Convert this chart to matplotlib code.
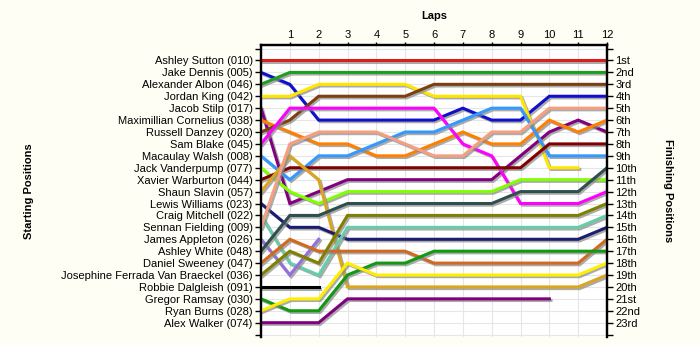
"""Bump chart of race positions lap by lap."""

import matplotlib
matplotlib.use("Agg")
import matplotlib.pyplot as plt
import matplotlib.patheffects as pe
import numpy as np

plt.rcParams["font.family"] = ["Liberation Sans", "DejaVu Sans"]

laps = list(range(13))

drivers = [
    "Ashley Sutton (010)", "Jake Dennis (005)", "Alexander Albon (046)",
    "Jordan King (042)", "Jacob Stilp (017)", "Maximillian Cornelius (038)",
    "Russell Danzey (020)", "Sam Blake (045)", "Macaulay Walsh (008)",
    "Jack Vanderpump (077)", "Xavier Warburton (044)", "Shaun Slavin (057)",
    "Lewis Williams (023)", "Craig Mitchell (022)", "Sennan Fielding (009)",
    "James Appleton (026)", "Ashley White (048)", "Daniel Sweeney (047)",
    "Josephine Ferrada Van Braeckel (036)", "Robbie Dalgleish (091)",
    "Gregor Ramsay (030)", "Ryan Burns (028)", "Alex Walker (074)",
]

finish_labels = ["1st", "2nd", "3rd"] + [f"{i}th" for i in range(4, 21)] + ["21st", "22nd", "23rd"]

# position per lap (lap 0 = grid), None = retired
sutton = [1, 1, 1, 1, 1, 1, 1, 1, 1, 1, 1, 1, 1]
dennis = [2, 3, 6, 6, 6, 6, 6, 5, 6, 6, 4, 4, 4]
albon = [3, 2, 2, 2, 2, 2, 2, 2, 2, 2, 2, 2, 2]
king = [4, 4, 3, 3, 3, 3, 4, 4, 4, 4, 10, 10, None]
stilp = [5, 13, 12, 11, 11, 11, 11, 11, 11, 9, 7, 6, 7]
cornelius = [6, 7, 8, 8, 9, 9, 8, 7, 8, 8, 6, 7, 6]
danzey = [7, 6, 4, 4, 4, 4, 3, 3, 3, 3, 3, 3, 3]
blake = [8, 5, 5, 5, 5, 5, 5, 8, 9, 13, 13, 13, 12]
walsh = [9, 11, 9, 9, 8, 7, 7, 6, 5, 5, 9, 9, 9]
vanderpump = [10, 12, 13, 12, 12, 12, 12, 12, 12, 11, 11, 11, 11]
warburton = [11, 10, 10, 10, 10, 10, 10, 10, 10, 10, 8, 8, 8]
slavin = [12, 9, 11, 20, 20, 20, 20, 20, 20, 20, 20, 20, 19]
williams = [13, 15, 15, 16, 16, 16, 16, 16, 16, 16, 16, 16, 15]
mitchell = [14, 18, 19, 15, 15, 15, 15, 15, 15, 15, 15, 15, 14]
fielding = [15, 8, 7, 7, 7, 8, 9, 9, 7, 7, 5, 5, 5]
appleton = [16, 19, 16, None, None, None, None, None, None, None, None, None, None]
white = [17, 14, 14, 13, 13, 13, 13, 13, 13, 12, 12, 12, 10]
sweeney = [18, 16, 17, 17, 17, 17, 18, 18, 18, 18, 18, 18, 16]
ferrada = [19, 17, 18, 14, 14, 14, 14, 14, 14, 14, 14, 14, 13]
dalgleish = [20, 20, 20, None, None, None, None, None, None, None, None, None, None]
ramsay = [21, 22, 22, 19, 18, 18, 17, 17, 17, 17, 17, 17, 17]
burns = [22, 21, 21, 18, 19, 19, 19, 19, 19, 19, 19, 19, 18]
walker = [23, 23, 23, 21, 21, 21, 21, 21, 21, 21, 21, None, None]

driver_laps = [sutton, dennis, albon, king, stilp, cornelius, danzey, blake,
               walsh, vanderpump, warburton, slavin, williams, mitchell,
               fielding, appleton, white, sweeney, ferrada, dalgleish,
               ramsay, burns, walker]

colors = ["#DD1C1C", "#1010CC", "#1E9E1E", "#FFE600", "#800080", "#FF8000",
          "#7B3F10", "#FF00FF", "#3399FF", "#80FF00", "#800000", "#DAA520",
          "#1C1C70", "#66CDAA", "#F4A080", "#9370DB", "#2F4F4F", "#D2691E",
          "#808000", "#000000", "#119911", "#FFEE00", "#800080"]

fig = plt.figure(figsize=(7, 3.45), dpi=100, facecolor="#FFFEF5")
ax = fig.add_axes([261 / 700, 1 - 337 / 345, 346 / 700, 292 / 345])
ax.set_facecolor("white")

shadow = [pe.SimpleLineShadow(offset=(1.2, -1.2), shadow_color="#888888", alpha=0.7), pe.Normal()]
for pos, col in zip(driver_laps, colors):
    y = np.array([np.nan if p is None else p for p in pos], dtype=float)
    ax.plot(laps, y, color=col, lw=2.2, solid_joinstyle="miter", path_effects=shadow, zorder=3)

ax.set_xlim(0, 12)
ax.set_ylim(24.2, -0.3)

ax.xaxis.tick_top()
ax.xaxis.set_label_position("top")
ax.set_xticks(range(1, 13))
ax.set_xticklabels([str(i) for i in range(1, 13)], fontsize=8)
ax.set_xlabel("Laps", fontsize=8, fontweight="bold", labelpad=8)
ax.tick_params(axis="x", length=2.5, width=1, pad=0.8)

ax.set_yticks(range(0, 25))
ax.set_yticklabels([""] + drivers + [""], fontsize=8)
ax.set_ylabel("Starting Positions", fontsize=8, fontweight="bold")
ax.yaxis.set_label_coords(-0.655, 0.5)
ax.tick_params(axis="y", length=4.5, width=1, pad=1.5)

ax.grid(True, color="#E6E6E6", lw=0.8, zorder=0)

ax2 = ax.twinx()
ax2.set_ylim(24.2, -0.3)
ax2.set_yticks(range(0, 25))
ax2.set_yticklabels([""] + finish_labels + [""], fontsize=8)
ax2.tick_params(axis="y", length=4, width=1, pad=2)
ax2.set_ylabel("Finishing Positions", fontsize=8, fontweight="bold", rotation=270)
ax2.yaxis.set_label_coords(1.19, 0.5)

for a in (ax, ax2):
    a.spines["bottom"].set_visible(False)
    a.spines["left"].set_linewidth(1.6)
    a.spines["right"].set_linewidth(1.6)
    a.spines["top"].set_linewidth(1.6)

fig.savefig("out.png", dpi=100, facecolor=fig.get_facecolor())
plt.close(fig)
